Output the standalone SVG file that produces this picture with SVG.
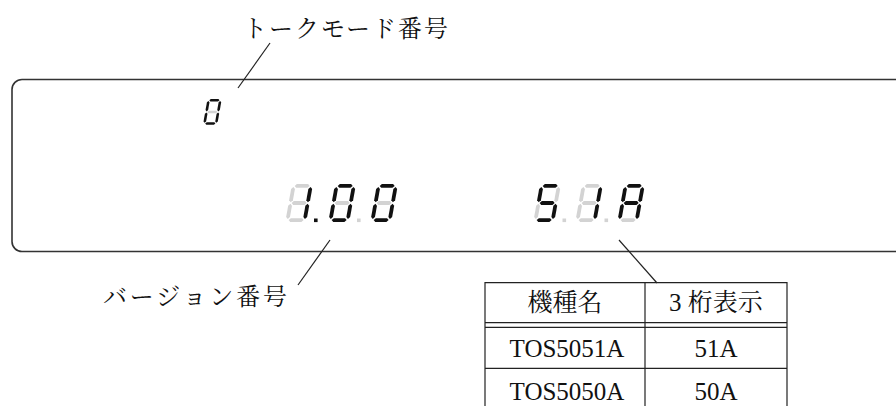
<svg xmlns="http://www.w3.org/2000/svg" xmlns:xlink="http://www.w3.org/1999/xlink" width="896" height="406" viewBox="0 0 896 406">
<style>
.on{fill:#111}
.off{fill:#d3d3d3}
.ln{fill:none;stroke:#222;stroke-width:1.2}
.panel{fill:none;stroke:#333;stroke-width:1.6}
.jp{font-family:"Noto Serif CJK JP","Noto Sans CJK JP",serif;font-size:24px;fill:#111}
.tb{font-family:"Liberation Serif","Noto Serif CJK JP","Noto Sans CJK JP",serif;font-size:25px;fill:#111;text-anchor:middle}
</style>
<defs>
<polygon id="sa" points="3,1.9 4.9,0 16.1,0 18,1.9 16.1,3.8 4.9,3.8"/>
<polygon id="sg" points="3,19 4.9,17.1 16.1,17.1 18,19 16.1,20.9 4.9,20.9"/>
<polygon id="sd" points="3,36.1 4.9,34.2 16.1,34.2 18,36.1 16.1,38 4.9,38"/>
<polygon id="sf" points="1.9,3 3.8,4.9 3.8,16.3 1.9,18.2 0,16.3 0,4.9"/>
<polygon id="se" points="1.9,19.8 3.8,21.7 3.8,33.1 1.9,35 0,33.1 0,21.7"/>
<polygon id="sb" points="19.1,3 21,4.9 21,16.3 19.1,18.2 17.2,16.3 17.2,4.9"/>
<polygon id="sc" points="19.1,19.8 21,21.7 21,33.1 19.1,35 17.2,33.1 17.2,21.7"/>
</defs>

<g id="panel">
<path class="panel" d="M 910 79.5 H 22 A 10 10 0 0 0 12 89.5 V 241.5 A 10 10 0 0 0 22 251.5 H 910"/>
</g>

<g id="torque-digit" transform="translate(207.5,99) scale(0.68) skewX(-10)">
<use href="#sa" class="on"/><use href="#sb" class="on"/><use href="#sc" class="on"/><use href="#sd" class="on"/><use href="#se" class="on"/><use href="#sf" class="on"/><use href="#sg" class="off"/>
</g>

<g id="version">
<g transform="translate(292,184) skewX(-10)">
<use href="#sa" class="off"/><use href="#sb" class="on"/><use href="#sc" class="on"/><use href="#sd" class="off"/><use href="#se" class="off"/><use href="#sf" class="off"/><use href="#sg" class="off"/>
</g>
<rect class="on" x="314" y="218.5" width="3.6" height="3.6"/>
<g transform="translate(335,184) skewX(-10)">
<use href="#sa" class="on"/><use href="#sb" class="on"/><use href="#sc" class="on"/><use href="#sd" class="on"/><use href="#se" class="on"/><use href="#sf" class="on"/><use href="#sg" class="off"/>
</g>
<rect class="off" x="357" y="218.5" width="3.6" height="3.6"/>
<g transform="translate(377,184) skewX(-10)">
<use href="#sa" class="on"/><use href="#sb" class="on"/><use href="#sc" class="on"/><use href="#sd" class="on"/><use href="#se" class="on"/><use href="#sf" class="on"/><use href="#sg" class="off"/>
</g>
</g>

<g id="model">
<g transform="translate(540,184) skewX(-10)">
<use href="#sa" class="on"/><use href="#sb" class="off"/><use href="#sc" class="on"/><use href="#sd" class="on"/><use href="#se" class="off"/><use href="#sf" class="on"/><use href="#sg" class="on"/>
</g>
<rect class="off" x="562.5" y="218.5" width="3.6" height="3.6"/>
<g transform="translate(582,184) skewX(-10)">
<use href="#sa" class="off"/><use href="#sb" class="on"/><use href="#sc" class="on"/><use href="#sd" class="off"/><use href="#se" class="off"/><use href="#sf" class="off"/><use href="#sg" class="off"/>
</g>
<rect class="off" x="604.5" y="218.5" width="3.6" height="3.6"/>
<g transform="translate(624,184) skewX(-10)">
<use href="#sa" class="on"/><use href="#sb" class="on"/><use href="#sc" class="on"/><use href="#sd" class="off"/><use href="#se" class="on"/><use href="#sf" class="on"/><use href="#sg" class="on"/>
</g>
</g>

<g id="connectors">
<line class="ln" x1="270" y1="43" x2="238" y2="88"/>
<line class="ln" x1="330" y1="240" x2="298" y2="285"/>
<line class="ln" x1="619" y1="240" x2="657" y2="283"/>
</g>

<g id="label-torque">
<text class="jp" x="243" y="37" textLength="205" lengthAdjust="spacing">トークモード番号</text>
</g>
<g id="label-version">
<text class="jp" x="103" y="305" textLength="184" lengthAdjust="spacing">バージョン番号</text>
</g>

<g id="table">
<path class="ln" d="M 485 406 V 282.7 H 787 V 406 M 645 282.7 V 406 M 485 322.7 H 787 M 485 327.3 H 787 M 485 368.3 H 787"/>
<text class="tb" x="565" y="311">機種名</text>
<text class="tb" x="716" y="311">3 桁表示</text>
<text class="tb" x="567" y="357">TOS5051A</text>
<text class="tb" x="716" y="357">51A</text>
<text class="tb" x="567" y="400">TOS5050A</text>
<text class="tb" x="716" y="400">50A</text>
</g>
</svg>
